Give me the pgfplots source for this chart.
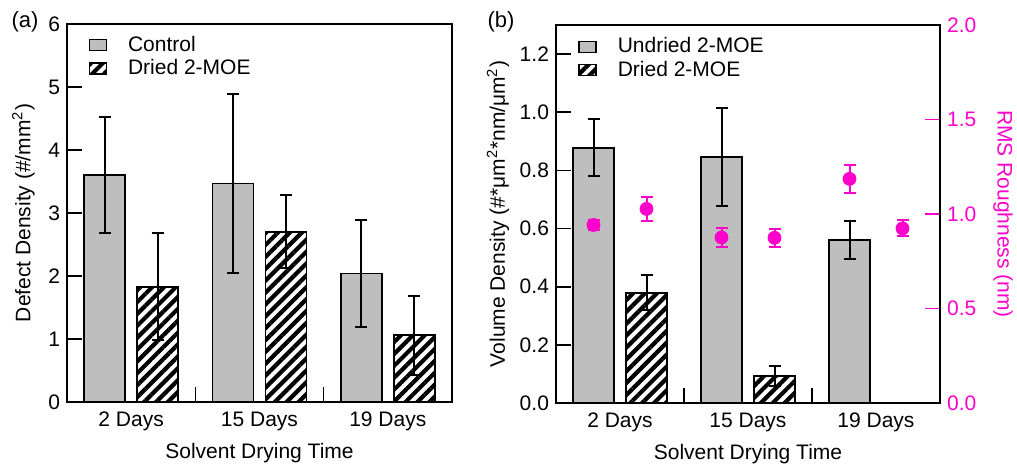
\documentclass[border=0pt]{standalone}
\usepackage{fontspec}
\setmainfont{Liberation Sans}
\usepackage{pgfplots}
\pgfplotsset{compat=1.18}
\usetikzlibrary{patterns.meta}
\definecolor{barGray}{RGB}{190,190,190}
\definecolor{rmsMag}{RGB}{255,0,204}

\pgfplotstableread{
x   y     e
0   3.60  0.92
1   3.47  1.42
2   2.04  0.85
}\ctrlA
\pgfplotstableread{
x   y     e
0   1.83  0.85
1   2.70  0.58
2   1.06  0.63
}\driedA
\pgfplotstableread{
x   y      e
0   0.878  0.099
1   0.846  0.170
2   0.560  0.066
}\undriedB
\pgfplotstableread{
x   y      e
0   0.379  0.060
1   0.093  0.033
2   0.000  0.000
}\driedB
\pgfplotstableread{
x       y      e
-0.207  0.942  0.024
0.793   0.876  0.048
1.793   1.186  0.074
0.207   1.027  0.065
1.207   0.874  0.047
2.207   0.924  0.042
}\rmsB

\pgfplotsset{
  common/.style={
    scale only axis,
    xmin=-0.5, xmax=2.5,
    ybar=6pt, bar width=20.5pt,
    xtick={0.5,1.5},
    xticklabels={},
    extra x ticks={0,1,2},
    extra x tick labels={2 Days,15 Days,19 Days},
    extra x tick style={major tick length=0pt, xticklabel style={yshift=-1.5pt}},
    xtick pos=bottom,
    ytick pos=left,
    tick align=inside,
    major tick length=7.5pt,
    axis line style={line width=1pt},
    every tick/.style={line width=0.8pt, black},
    /pgf/number format/assume math mode=true,
    every axis x label/.style={at={(axis description cs:0.5,-0.136)}, anchor=center},
  },
  legimg/.style={legend image code/.code={\draw[line width=0.75pt, ##1] (0pt,-2.75pt) rectangle (8.5pt,2.75pt);}},
  ctrlbar/.style={legimg, draw=black, line width=0.9pt, fill=barGray,
    error bars/.cd, y dir=both, y explicit,
    error bar style={black, line width=1pt},
    error mark options={rotate=90, mark size=3pt, line width=1pt, black}},
  hatchbar/.style={legimg, draw=black, line width=0.9pt,
    pattern={Lines[angle=45,distance=4.2pt,line width=2.1pt]}, pattern color=black,
    error bars/.cd, y dir=both, y explicit,
    error bar style={black, line width=1pt},
    error mark options={rotate=90, mark size=3pt, line width=1pt, black}},
  leg/.style={legend style={at={(axis description cs:#1)}, anchor=north west, draw=none, fill=none,
    inner sep=0pt, row sep=-1.5pt, font=\fontsize{10.5}{12.6}\selectfont,
    /tikz/every odd column/.append style={column sep=8.5pt}}, legend cell align=left},
}

\begin{document}
\begin{tikzpicture}[font=\fontsize{10.5}{12.6}\selectfont]
\useasboundingbox (0,0) rectangle (508.5pt,231.5pt);

% ---------- panel (a)
\begin{axis}[common,
  at={(33.5pt,30.5pt)}, anchor=south west,
  width=192.5pt, height=189pt,
  ymin=0, ymax=6, ytick={0,1,2,3,4,5,6},
  xlabel={Solvent Drying Time},
  ylabel={Defect Density (\#/mm\textsuperscript{2})},
  every axis y label/.style={at={(axis description cs:-0.113,0.5)}, anchor=center, rotate=90},
  leg={0.055,0.98},
]
\addplot[ctrlbar] table[x=x, y=y, y error=e] {\ctrlA};
\addlegendentry{Control}
\addplot[hatchbar] table[x=x, y=y, y error=e] {\driedA};
\addlegendentry{Dried 2-MOE}
\end{axis}

% ---------- panel (b), left axis
\begin{axis}[common,
  at={(278pt,30pt)}, anchor=south west,
  width=192pt, height=189pt,
  ymin=0, ymax=1.3, ytick={0,0.2,0.4,0.6,0.8,1.0,1.2},
  yticklabel style={/pgf/number format/.cd, fixed, fixed zerofill, precision=1},
  xlabel={Solvent Drying Time},
  ylabel={Volume Density (\#*μm\textsuperscript{2}*nm/μm\textsuperscript{2})},
  every axis y label/.style={at={(axis description cs:-0.151,0.5)}, anchor=center, rotate=90},
  leg={0.057,0.978},
]
\addplot[ctrlbar] table[x=x, y=y, y error=e] {\undriedB};
\addlegendentry{Undried 2-MOE}
\addplot[hatchbar] table[x=x, y=y, y error=e] {\driedB};
\addlegendentry{Dried 2-MOE}
\end{axis}

% ---------- panel (b), right axis
\begin{axis}[
  scale only axis,
  at={(278pt,30pt)}, anchor=south west,
  width=192pt, height=189pt,
  xmin=-0.5, xmax=2.5,
  ymin=0, ymax=2,
  axis x line=none,
  axis y line*=right,
  axis line style={line width=1pt, black},
  ytick={0.5,1,1.5},
  extra y ticks={0,2},
  extra y tick style={major tick length=0pt},
  tick align=inside,
  major tick length=7.5pt,
  every tick/.style={line width=0.8pt, rmsMag},
  yticklabel style={text=rmsMag, /pgf/number format/.cd, fixed, fixed zerofill, precision=1},
  /pgf/number format/assume math mode=true,
  ylabel={RMS Roughness (nm)},
  every axis y label/.style={at={(axis description cs:1.164,0.5)}, anchor=center, rotate=-90, text=rmsMag},
]
\addplot[only marks, mark=*, mark size=3.25pt, color=rmsMag,
  error bars/.cd, y dir=both, y explicit,
  error bar style={rmsMag, line width=1pt},
  error mark options={rotate=90, mark size=3pt, line width=1pt, rmsMag}]
  table[x=x, y=y, y error=e] {\rmsB};
\end{axis}

\node[font=\fontsize{11}{13.2}\selectfont] at (12.5pt,220.5pt) {(a)};
\node[font=\fontsize{11}{13.2}\selectfont] at (250.5pt,220.5pt) {(b)};
\end{tikzpicture}
\end{document}
